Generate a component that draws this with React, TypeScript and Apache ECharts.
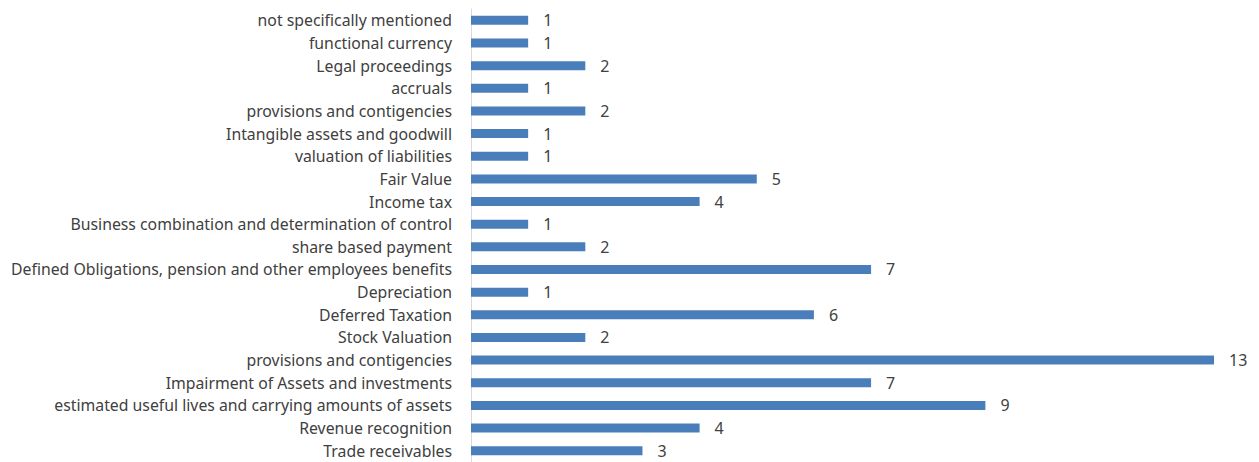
import React, { useEffect, useRef } from "react";
import * as echarts from "echarts";

const categories = [
  "Trade receivables",
  "Revenue recognition",
  "estimated useful lives and carrying amounts of assets",
  "Impairment of Assets and investments",
  "provisions and contigencies",
  "Stock Valuation",
  "Deferred Taxation",
  "Depreciation",
  "Defined Obligations, pension and other employees benefits",
  "share based payment",
  "Business combination and determination of control",
  "Income tax",
  "Fair Value",
  "valuation of liabilities",
  "Intangible assets and goodwill",
  "provisions and contigencies",
  "accruals",
  "Legal proceedings",
  "functional currency",
  "not specifically mentioned",
];

const values = [3, 4, 9, 7, 13, 2, 6, 1, 7, 2, 1, 4, 5, 1, 1, 2, 1, 2, 1, 1];

const indices = categories.map((_, i) => String(i));

export default function App() {
  const ref = useRef<HTMLDivElement>(null);
  useEffect(() => {
    if (!ref.current) return;
    const chart = echarts.init(ref.current, undefined, { renderer: "svg" });
    chart.setOption({
      animation: false,
      backgroundColor: "#ffffff",
      grid: { left: 471, right: 45, top: 9, bottom: 0, containLabel: false },
      xAxis: {
        type: "value",
        min: 0,
        max: 13,
        show: false,
      },
      yAxis: {
        type: "category",
        data: indices,
        axisLine: { show: true, lineStyle: { color: "#d9d9d9", width: 1 } },
        axisTick: { show: false },
        axisLabel: {
          margin: 19,
          color: "#404040",
          fontFamily: "Noto Sans",
          fontSize: 15.8,
          formatter: (v: string) => categories[Number(v)],
        },
      },
      series: [
        {
          type: "bar",
          data: values,
          barWidth: 9,
          itemStyle: { color: "#4a7ebb" },
          label: {
            show: true,
            position: "right",
            distance: 15,
            color: "#404040",
            fontFamily: "Noto Sans",
            fontSize: 16,
          },
        },
      ],
    });
    return () => chart.dispose();
  }, []);
  return (
    <div
      ref={ref}
      style={{ position: "absolute", left: 0, top: 0, width: 1259, height: 462 }}
    />
  );
}
